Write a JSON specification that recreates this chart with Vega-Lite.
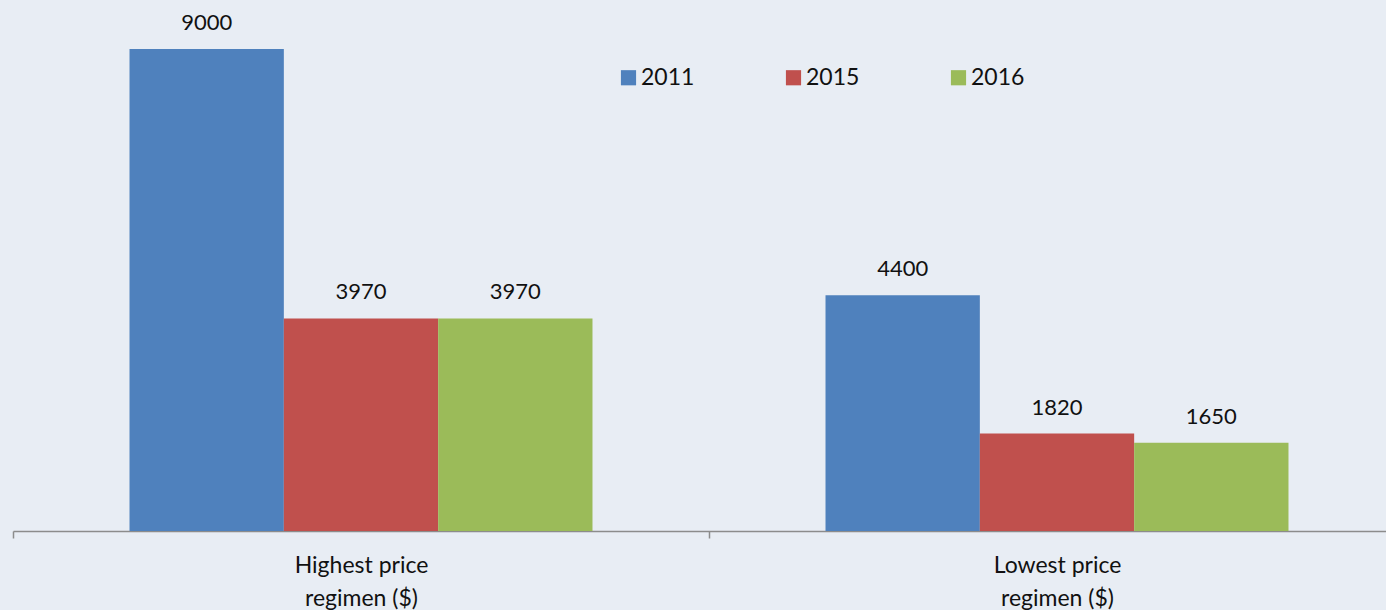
{
  "$schema": "https://vega.github.io/schema/vega-lite/v6.json",
  "width": 1392,
  "height": 531,
  "autosize": {"type": "none"},
  "padding": {"left": 13, "top": 0, "right": 0, "bottom": 79},
  "background": "#E8EDF4",
  "config": {
    "view": {"stroke": null},
    "font": "Lato",
    "axis": {"labelFont": "Lato", "labelColor": "#111111"},
    "legend": {"labelFont": "Lato"}
  },
  "data": {
    "values": [
      {"category": "Highest price regimen ($)", "year": "2011", "value": 9000},
      {"category": "Highest price regimen ($)", "year": "2015", "value": 3970},
      {"category": "Highest price regimen ($)", "year": "2016", "value": 3970},
      {"category": "Lowest price regimen ($)", "year": "2011", "value": 4400},
      {"category": "Lowest price regimen ($)", "year": "2015", "value": 1820},
      {"category": "Lowest price regimen ($)", "year": "2016", "value": 1650}
    ]
  },
  "encoding": {
    "x": {
      "field": "category",
      "type": "nominal",
      "sort": null,
      "scale": {"paddingInner": 0, "paddingOuter": 0},
      "axis": {
        "title": null,
        "labelAngle": 0,
        "labelFontSize": 23,
        "labelLineHeight": 33,
        "labelPadding": 16,
        "labelExpr": "datum.label ? [slice(datum.label, 0, indexof(datum.label, ' regimen')), 'regimen ($)'] : ''",
        "tickBand": "extent",
        "tickSize": 7,
        "tickColor": "#8C8C8C",
        "domainColor": "#8C8C8C",
        "domainWidth": 1.5,
        "tickWidth": 1.5
      }
    },
    "xOffset": {"field": "year", "type": "nominal", "scale": {"paddingInner": 0, "paddingOuter": 0.755}},
    "y": {
      "field": "value",
      "type": "quantitative",
      "scale": {"domain": [0, 9915], "nice": false},
      "axis": null
    }
  },
  "layer": [
    {
      "mark": {"type": "bar"},
      "encoding": {
        "color": {
          "field": "year",
          "type": "nominal",
          "scale": {"domain": ["2011", "2015", "2016"], "range": ["#4F81BD", "#C0504D", "#9BBB59"]},
          "legend": {
            "title": null,
            "orient": "none",
            "legendX": 604,
            "legendY": 66,
            "direction": "horizontal",
            "symbolType": "square",
            "symbolSize": 230,
            "symbolStrokeWidth": 0,
            "labelFontSize": 23,
            "labelColor": "#111111",
            "labelOffset": 1,
            "columnPadding": 87
          }
        }
      }
    },
    {
      "mark": {"type": "text", "baseline": "alphabetic", "dy": -19, "fontSize": 22, "color": "#111111"},
      "encoding": {"text": {"field": "value", "type": "quantitative", "format": "d"}}
    }
  ]
}
